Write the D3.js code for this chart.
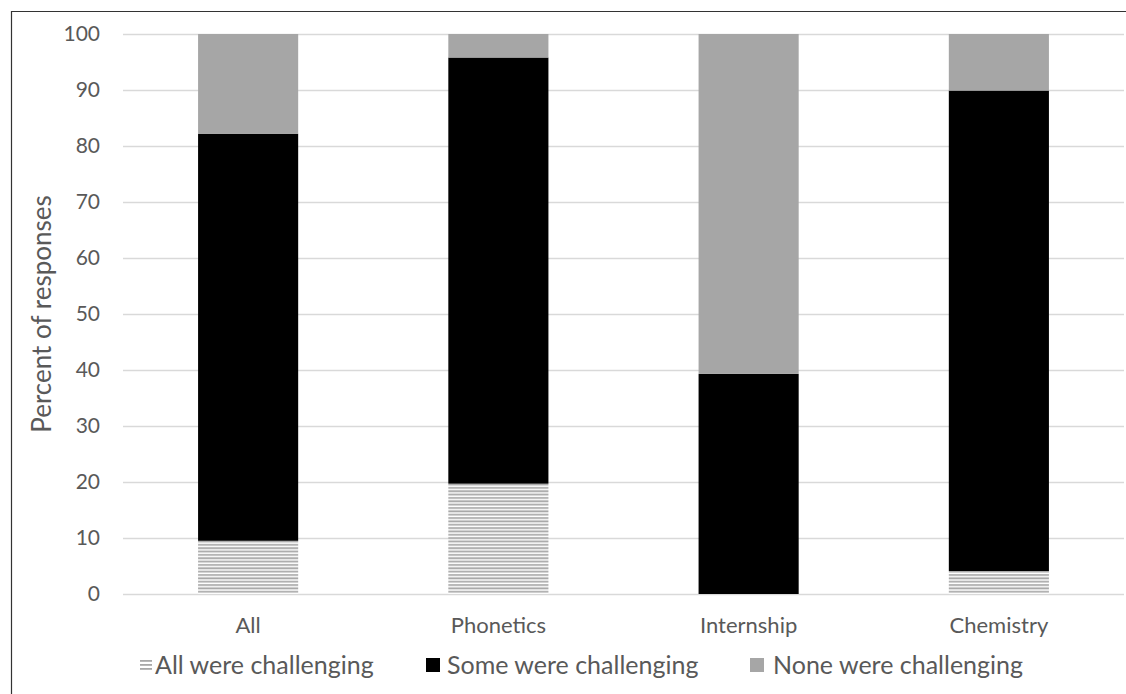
<!DOCTYPE html>
<html>
<head>
<meta charset="utf-8">
<script src="https://cdn.jsdelivr.net/npm/d3@7"></script>
<style>
  html, body { margin: 0; padding: 0; background: #fff; }
  svg { display: block; }
  text { font-family: Lato, "Open Sans", sans-serif; fill: #595959; }
</style>
</head>
<body>
<svg id="chart" width="1126" height="694"></svg>
<script>
// Categories and stacked shares (percent of responses)
const categories = ["All", "Phonetics", "Internship", "Chemistry"];
const allChallenging  = [9.5, 19.7, 0, 4.1];
const someChallenging = [72.7, 76.1, 39.3, 85.8];
const noneChallenging = [17.8, 4.2, 60.7, 10.1];
const seriesNames = ["All were challenging", "Some were challenging", "None were challenging"];
const yTicks = [0, 10, 20, 30, 40, 50, 60, 70, 80, 90, 100];

const svg = d3.select("#chart");
const W = 1126, H = 694;
const plot = { left: 123, right: 1124, top: 34, bottom: 594 };

// Outer frame (left and top edges)
svg.append("path")
  .attr("d", `M11.5,${H} V11.5 H${W}`)
  .attr("fill", "none")
  .attr("stroke", "#333")
  .attr("stroke-width", 1.2);

// Horizontal stripe fill for the "All were challenging" segment
const defs = svg.append("defs");
const pat = defs.append("pattern")
  .attr("id", "stripes")
  .attr("patternUnits", "userSpaceOnUse")
  .attr("width", 10).attr("height", 3.35)
  .attr("y", plot.bottom);
pat.append("rect").attr("width", 10).attr("height", 3.35).attr("fill", "#fff");
pat.append("rect").attr("y", 0.2).attr("width", 10).attr("height", 1.8).attr("fill", "#a8a8a8");

const x = d3.scaleBand().domain(categories).range([plot.left, plot.right]).paddingInner(0.6).paddingOuter(0.3);
const y = d3.scaleLinear().domain([0, 100]).range([plot.bottom, plot.top]);

// Gridlines
svg.append("g").selectAll("line").data(yTicks).join("line")
  .attr("x1", plot.left).attr("x2", plot.right)
  .attr("y1", d => y(d) + 0.5).attr("y2", d => y(d) + 0.5)
  .attr("stroke", "#d9d9d9").attr("stroke-width", 1.3);

// Y axis labels
const yAxis = d3.axisLeft(y).tickValues(yTicks).tickSize(0).tickPadding(0);
const gy = svg.append("g").attr("transform", `translate(100,0)`).call(yAxis);
gy.select(".domain").remove();
gy.selectAll("text").attr("font-size", 21).style("font-family", "Lato, sans-serif").attr("fill", "#595959");

// Stacked bars
const rows = categories.map((c, i) => ({ cat: c, all: allChallenging[i], some: someChallenging[i], none: noneChallenging[i] }));
const stack = d3.stack().keys(["all", "some", "none"])(rows);
const fills = { all: "url(#stripes)", some: "#000", none: "#a6a6a6" };

svg.append("g").selectAll("g").data(stack).join("g")
  .attr("fill", d => fills[d.key])
  .selectAll("rect").data(d => d).join("rect")
  .attr("x", d => x(d.data.cat))
  .attr("width", x.bandwidth())
  .attr("y", d => y(d[1]))
  .attr("height", d => y(d[0]) - y(d[1]));

// Category labels
const xAxis = d3.axisBottom(x).tickSize(0).tickPadding(0);
const gx = svg.append("g").attr("transform", `translate(0,${plot.bottom + 23})`).call(xAxis);
gx.select(".domain").remove();
gx.selectAll("text").attr("font-size", 22).style("font-family", "Lato, sans-serif").attr("fill", "#595959");

// Y axis title
svg.append("text")
  .attr("transform", `translate(51,${(plot.top + plot.bottom) / 2}) rotate(-90)`)
  .attr("text-anchor", "middle")
  .attr("font-size", 26)
  .text("Percent of responses");

// Legend
const legendX = [140, 426, 750];
const textOffset = [15, 21, 23];
const lg = svg.append("g").attr("transform", "translate(0,665)");
seriesNames.forEach((name, i) => {
  const g = lg.append("g").attr("transform", `translate(${legendX[i]},0)`);
  if (i === 0) {
    g.append("rect").attr("x", 0).attr("y", -6).attr("width", 12).attr("height", 12).attr("fill", "#fff");
    [-5, -1, 3].forEach(o => g.append("rect").attr("x", 0).attr("y", o).attr("width", 12).attr("height", 1.8).attr("fill", "#a8a8a8"));
  } else {
    g.append("rect").attr("x", 0).attr("y", -7).attr("width", 14).attr("height", 14).attr("fill", i === 1 ? "#000" : "#a6a6a6");
  }
  g.append("text").attr("x", textOffset[i]).attr("y", 0).attr("dy", "0.35em")
    .attr("font-size", 25).text(name);
});
</script>
</body>
</html>
